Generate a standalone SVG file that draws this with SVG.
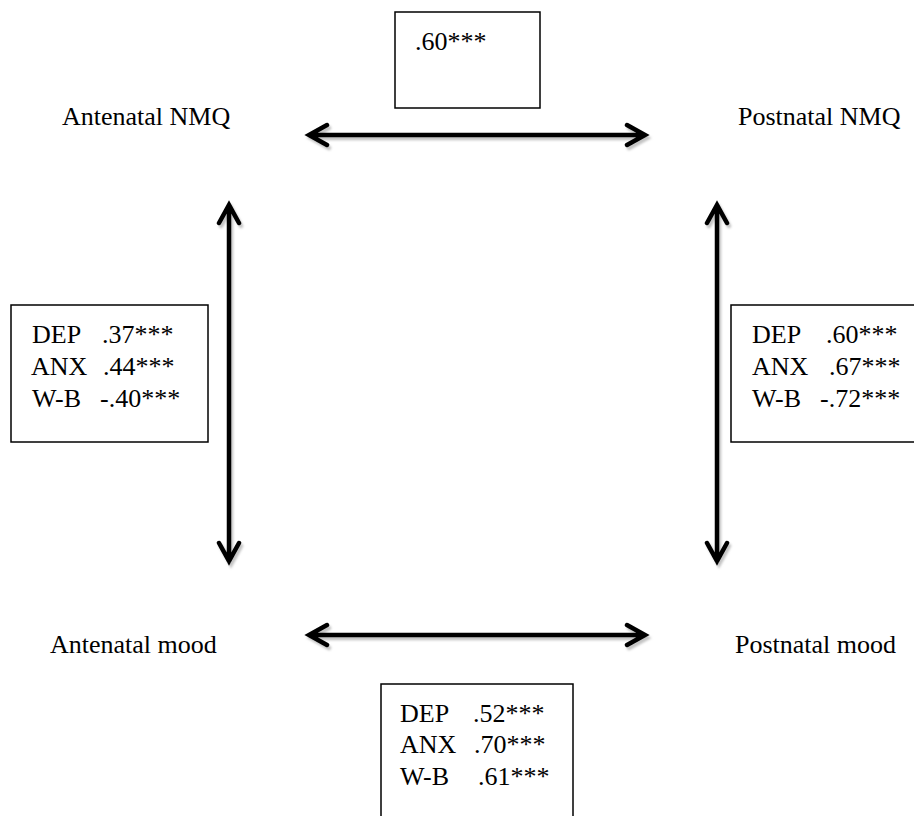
<svg xmlns="http://www.w3.org/2000/svg" width="914" height="816" viewBox="0 0 914 816">
<defs>
<style>
.t{font-family:"Liberation Serif","Times New Roman",serif;font-size:26px;fill:#000}
.box{fill:#fff;stroke:#000;stroke-width:1.5}
.ln{fill:none;stroke:#000;stroke-width:4.5;stroke-linecap:round;stroke-linejoin:miter}
.sh{fill:none;stroke:#c4c4c4;stroke-width:4.5;stroke-linecap:round}
</style>
<filter id="blur" x="-10%" y="-10%" width="120%" height="120%"><feGaussianBlur stdDeviation="0.8"/></filter>
</defs>
<rect width="914" height="816" fill="#fff"/>
<g id="connectors">
<g filter="url(#blur)" transform="translate(2,3)">
<path class="sh" d="M309,135H645M327,125L309,135L327,145M627,125L645,135L627,145"/>
<path class="sh" d="M309,635H645M327,625L309,635L327,645M627,625L645,635L627,645"/>
<path class="sh" d="M229,205V561M219,223L229,205L239,223M219,543L229,561L239,543"/>
<path class="sh" d="M717,205V561M707,223L717,205L727,223M707,543L717,561L727,543"/>
</g>
<path class="ln" d="M309,135H645M327,125L309,135L327,145M627,125L645,135L627,145"/>
<path class="ln" d="M309,635H645M327,625L309,635L327,645M627,625L645,635L627,645"/>
<path class="ln" d="M229,205V561M219,223L229,205L239,223M219,543L229,561L239,543"/>
<path class="ln" d="M717,205V561M707,223L717,205L727,223M707,543L717,561L727,543"/>
</g>
<g id="antenatal-nmq"><text class="t" x="62" y="125">Antenatal NMQ</text></g>
<g id="postnatal-nmq"><text class="t" x="738" y="125">Postnatal NMQ</text></g>
<g id="antenatal-mood"><text class="t" x="50" y="653">Antenatal mood</text></g>
<g id="postnatal-mood"><text class="t" x="735" y="653">Postnatal mood</text></g>
<g id="box-top">
<rect class="box" x="395" y="12" width="145" height="96"/>
<text class="t" x="415" y="50">.60***</text>
</g>
<g id="box-left">
<rect class="box" x="11" y="305" width="197" height="137"/>
<text class="t" x="32" y="343">DEP</text><text class="t" x="102" y="343">.37***</text>
<text class="t" x="31" y="375">ANX</text><text class="t" x="103" y="375">.44***</text>
<text class="t" x="32" y="407">W-B</text><text class="t" x="100" y="407">-.40***</text>
</g>
<g id="box-right">
<rect class="box" x="731" y="305" width="200" height="137"/>
<text class="t" x="752" y="343">DEP</text><text class="t" x="826" y="343">.60***</text>
<text class="t" x="752" y="375">ANX</text><text class="t" x="829" y="375">.67***</text>
<text class="t" x="752" y="407">W-B</text><text class="t" x="820" y="407">-.72***</text>
</g>
<g id="box-bottom">
<rect class="box" x="381" y="684" width="192" height="150"/>
<text class="t" x="400" y="722">DEP</text><text class="t" x="473" y="722">.52***</text>
<text class="t" x="400" y="753">ANX</text><text class="t" x="474" y="753">.70***</text>
<text class="t" x="400" y="785">W-B</text><text class="t" x="478" y="785">.61***</text>
</g>
</svg>
